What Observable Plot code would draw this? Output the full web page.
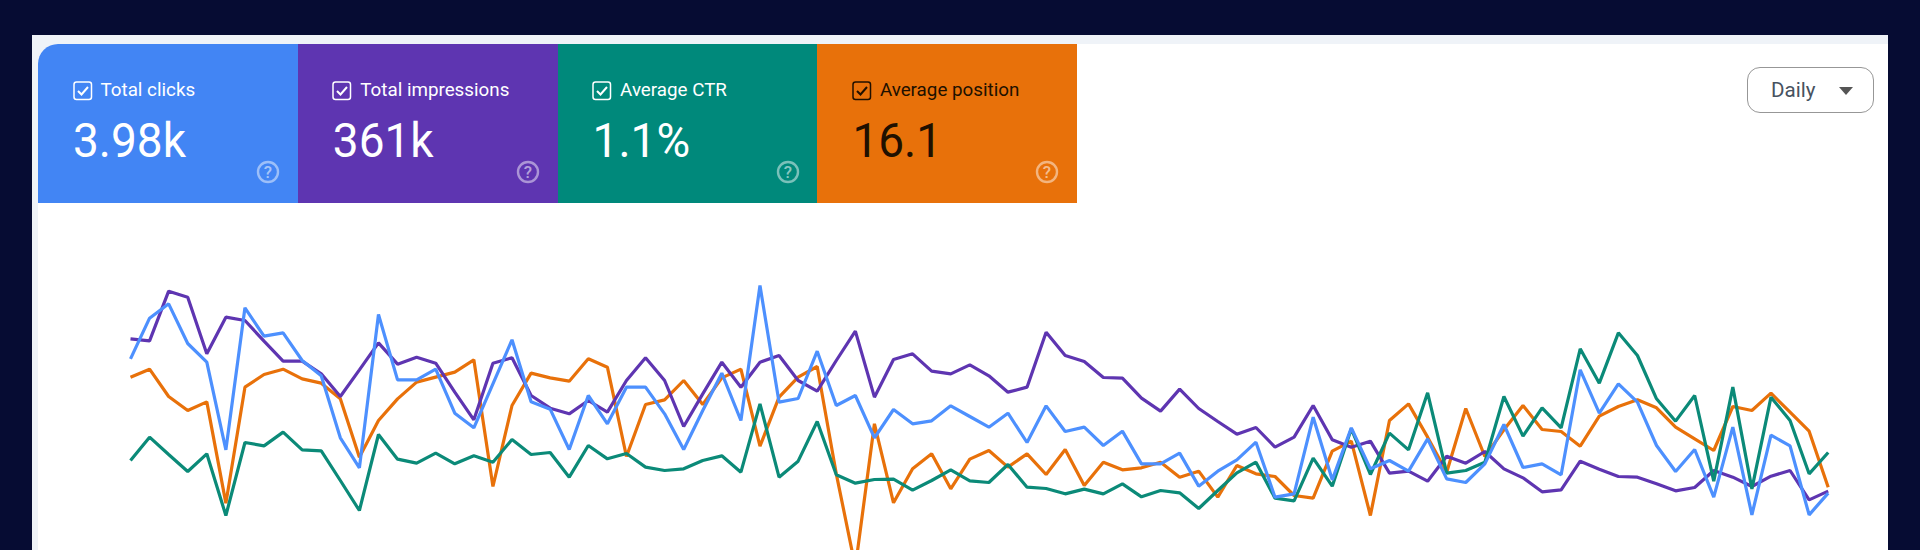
<!DOCTYPE html>
<html>
<head>
<meta charset="utf-8">
<script src="https://cdn.jsdelivr.net/npm/d3@7"></script>
<script src="https://cdn.jsdelivr.net/npm/@observablehq/plot@0.6"></script>
<style>
html,body{margin:0;padding:0;width:1920px;height:550px;overflow:hidden;background:#060c33;font-family:Roboto,sans-serif}
#panel{position:absolute;left:32px;top:35px;width:1856px;height:515px;background:#eff3f8}
#card{position:absolute;left:38px;top:44px;width:1850px;height:506px;background:#fff;border-top-left-radius:20px}
.tile{position:absolute;top:44px;height:159px;width:259.8px;color:#fff}
.tile .cb{position:absolute;left:34.5px;top:37px}
.tile .lab{position:absolute;left:62.5px;top:34px;font-size:18.8px;line-height:24px;white-space:nowrap}
.tile .val{position:absolute;left:35px;top:67px;font-size:46px;line-height:58px;font-weight:400;white-space:nowrap;transform:scaleY(1.05);transform-origin:0 50%}
.tile .help{position:absolute;left:218px;top:116px}
#dd{position:absolute;left:1747px;top:67px;width:125px;height:44px;border:1.5px solid #979797;border-radius:13px;background:#fff;color:#47525f;font-size:20.6px}
#dd span{position:absolute;left:23px;top:10px;line-height:24px}
#dd svg{position:absolute;left:91px;top:19px}
#chart{position:absolute;left:38px;top:203px}
#chart svg{display:block;background:transparent}
</style>
</head>
<body>
<div id="panel"></div>
<div id="card"></div>
<div id="tiles"></div>
<div id="dd"><span>Daily</span><svg width="14" height="8"><path d="M0 0H14L7 8Z" fill="#555"/></svg></div>
<div id="chart"></div>
<script>
// Tile contents
const tileLabels = ["Total clicks", "Total impressions", "Average CTR", "Average position"];
const tileValues = ["3.98k", "361k", "1.1%", "16.1"];
const tileColors = ["#4285f4", "#5e35b1", "#00897b", "#e8710a"];
const tileInk = ["#fff", "#fff", "#fff", "#201000"];

// Daily readings, one per day (larger = lower on the chart)
const clicks = [265,143,100,219,275,538,112,197,187,270,316,502,592,132,328,328,296,428,472,340,208,394,416,537,375,460,350,350,430,537,420,308,450,45,395,384,242,405,375,502,417,460,451,406,438,470,428,516,406,483,470,525,482,580,580,548,647,602,568,515,680,670,440,628,472,595,570,602,505,625,636,580,462,591,580,613,298,428,340,395,525,603,537,680,470,733,494,526,733,668];
const impressions = [205,211,62,80,250,140,150,212,272,272,310,378,298,217,281,260,278,365,448,278,262,375,413,430,390,425,330,262,330,468,370,275,350,275,255,330,362,270,182,380,267,250,302,310,283,316,365,350,185,255,273,321,323,383,422,356,414,453,491,471,530,500,405,508,530,512,608,602,632,557,578,543,595,622,664,658,572,596,618,620,640,661,651,600,620,648,617,600,688,662];
const ctr = [570,500,552,603,550,735,516,526,485,538,541,630,720,492,566,578,548,580,556,575,507,552,546,620,525,565,549,590,600,595,570,556,605,400,620,572,453,613,638,627,626,659,630,598,631,636,582,650,654,670,656,670,640,679,660,667,714,660,607,575,683,691,563,647,475,612,488,538,367,608,600,575,378,497,412,472,235,338,187,255,385,452,375,632,350,655,380,450,610,546];
const position = [320,296,378,420,394,698,350,312,296,325,338,385,560,450,385,335,320,305,268,648,405,308,322,332,265,290,558,402,388,330,402,322,296,527,380,320,288,610,890,460,697,595,550,655,566,540,590,550,612,537,645,575,598,592,575,620,602,680,585,610,618,675,683,542,512,735,450,400,500,605,414,558,478,405,477,483,527,437,408,388,412,470,505,540,408,420,368,425,482,650];

// Build tiles
const tilesEl = document.getElementById("tiles");
tileLabels.forEach((label, i) => {
  const ink = tileInk[i];
  const t = document.createElement("div");
  t.className = "tile";
  t.style.left = (38 + 259.8 * i) + "px";
  t.style.background = tileColors[i];
  t.style.color = ink;
  if (i === 0) t.style.borderTopLeftRadius = "20px";
  t.innerHTML =
    `<svg class="cb" width="20" height="20"><rect x="1" y="1" width="17.5" height="17.5" rx="2.5" fill="none" stroke="${ink}" stroke-width="1.5"/><path d="M5 10 L8.5 13.5 L15 6" fill="none" stroke="${ink}" stroke-width="2"/></svg>` +
    `<div class="lab">${label}</div><div class="val">${tileValues[i]}</div>` +
    `<svg class="help" width="24" height="24"><circle cx="12" cy="12" r="10" fill="none" stroke="#fff" stroke-opacity=".48" stroke-width="2.4"/><text x="12" y="18" text-anchor="middle" font-size="17" font-weight="500" font-family="Roboto" fill="#fff" fill-opacity=".55">?</text></svg>`;
  tilesEl.appendChild(t);
});

// One line per series
const seriesTable = [
  ["position", position, "#e8710a"],
  ["impressions", impressions, "#5e35b1"],
  ["ctr", ctr, "#0b8a78"],
  ["clicks", clicks, "#4d90fe"]
];
const marks = seriesTable.map(([name, vals, color]) =>
  Plot.line(vals.map((v, i) => ({day: i, v})), {x: "day", y: "v", stroke: color, strokeWidth: 3.2, strokeLinejoin: "miter", strokeLinecap: "butt", curve: "linear"})
);

const chart = Plot.plot({
  width: 1850,
  height: 347,
  marginTop: 0, marginBottom: 0, marginLeft: 0, marginRight: 0,
  style: {background: "transparent"},
  x: {domain: [0, 89], range: [92, 1789.7], axis: null},
  y: {domain: [840, 0], range: [347, 67], axis: null},
  marks
});
document.getElementById("chart").appendChild(chart);
</script>
</body>
</html>
